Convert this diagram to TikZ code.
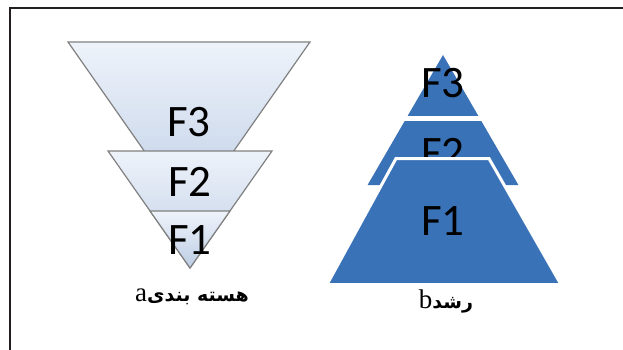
\documentclass[tikz,border=0pt]{standalone}
\usepackage{fontspec}
\setmainfont{Carlito}
\newfontfamily\persianfont[Script=Arabic]{DejaVu Sans}
\newfontfamily\latinserif{Liberation Serif}
\TeXXeTstate=1
\definecolor{pyrblue}{HTML}{3A72B8}
\definecolor{funtop}{HTML}{EEF3FA}
\definecolor{funbot}{HTML}{BDCDE5}
\definecolor{edgegray}{HTML}{808080}
\definecolor{framecol}{HTML}{231F20}

\begin{document}
\begin{tikzpicture}[x=1pt, y=-1pt]
  \tikzstyle{funnel} = [draw=edgegray, line width=1.2pt, top color=funtop, bottom color=funbot]
  \tikzstyle{block} = [fill=pyrblue]
  \tikzstyle{flabel} = [inner sep=0pt, font=\fontsize{45}{45}\selectfont]
  \tikzstyle{capt} = [inner sep=0pt]
  \useasboundingbox (0,0) rectangle (623,350);
  % frame
  \draw[framecol, line width=2pt] (9.5,350) -- (9.5,8.5) -- (623,8.5);

  % a: nucleation
  \path[funnel] (68,42) -- (310,42) -- (189,215) -- cycle;
  \node[flabel] (a3) at (189,122) {F3};
  \path[funnel] (108,151) -- (272,151) -- (190,268) -- cycle;
  \node[flabel] (a2) at (190,182) {F2};
  \path[funnel] (150,211) -- (230,211) -- (190,268) -- cycle;
  \node[flabel] (a1) at (190,240) {F1};
  \node[capt] (capa) at (192,297)
    {{\latinserif\fontsize{27}{27}\selectfont a}{\persianfont\bfseries\fontsize{19}{19}\selectfont\beginR هسته بندی\endR}};

  % b: growth
  \path[block] (443,55) -- (478.4,116) -- (407.6,116) -- cycle;
  \node[flabel] (b3) at (443,83) {F3};
  \path[block] (404.7,121) -- (481.3,121) -- (518.4,185) -- (367.6,185) -- cycle;
  \node[flabel] (b2) at (443,153) {F2};
  \path[block, draw=white, line width=3pt] (396,158.5) -- (489,158.5) -- (561,284.5) -- (327,284.5) -- cycle;
  \node[flabel] (b1) at (443,221) {F1};
  \node[capt] (capb) at (446,301)
    {{\latinserif\fontsize{27}{27}\selectfont b}{\persianfont\bfseries\fontsize{19}{19}\selectfont\beginR رشد\endR}};
\end{tikzpicture}
\end{document}
